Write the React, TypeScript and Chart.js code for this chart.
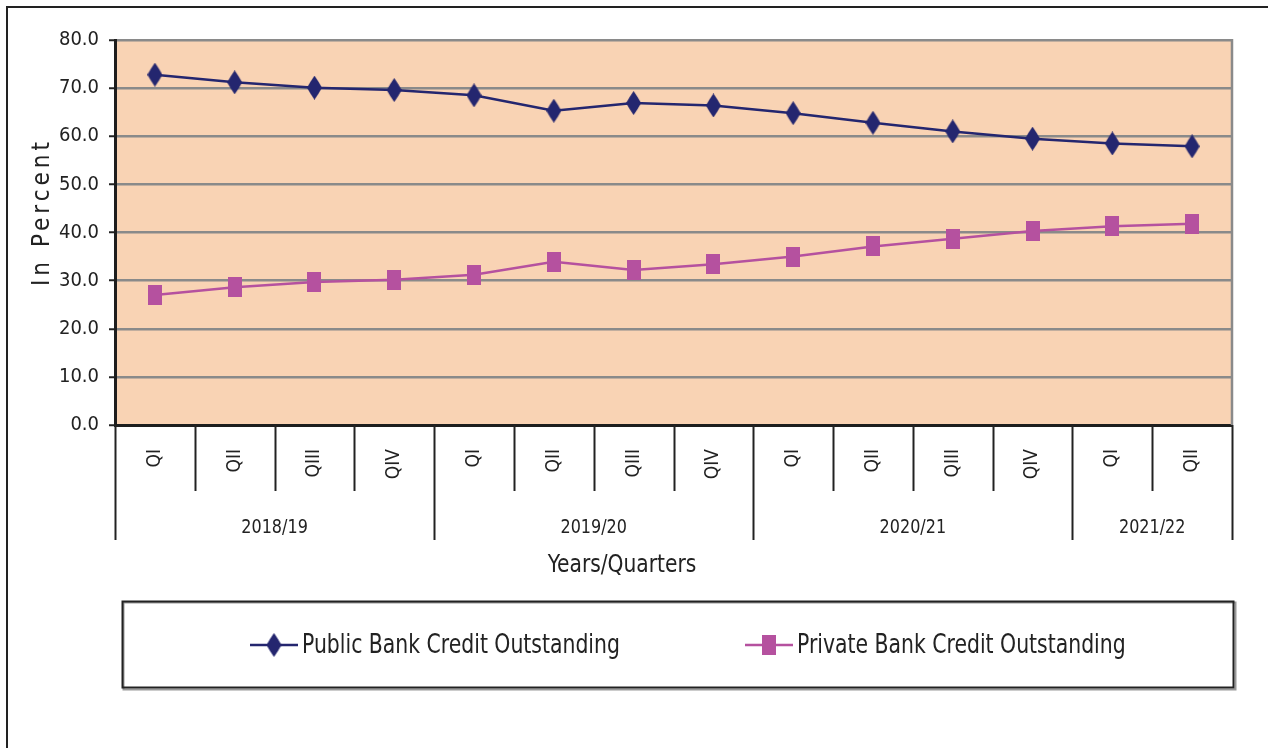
import React, { useEffect, useRef } from 'react';
import { Chart, registerables } from 'chart.js';
Chart.register(...registerables);

const categories = ['QI', 'QII', 'QIII', 'QIV', 'QI', 'QII', 'QIII', 'QIV', 'QI', 'QII', 'QIII', 'QIV', 'QI', 'QII'];
const yearGroups = ['2018/19', '2019/20', '2020/21', '2021/22'];
const groupSizes = [4, 4, 4, 2];
const publicBank = [72.8, 71.2, 70.1, 69.6, 68.5, 65.3, 66.9, 66.4, 64.8, 62.8, 61.0, 59.5, 58.5, 57.9];
const privateBank = [27.0, 28.6, 29.7, 30.2, 31.2, 33.9, 32.2, 33.4, 35.0, 37.1, 38.7, 40.3, 41.3, 41.8];
const seriesNames = ['Public Bank Credit Outstanding', 'Private Bank Credit Outstanding'];
const yAxisTitle = 'In Percent';
const xAxisTitle = 'Years/Quarters';

const FONT = "'Liberation Sans Narrow', 'DejaVu Sans Condensed', 'Liberation Sans', sans-serif";
const NAVY = '#24266f';
const PINK = '#b5519f';

function makeDiamond(color: string, w = 15, h = 24) {
  const c = document.createElement('canvas');
  c.width = w; c.height = h;
  const ctx = c.getContext('2d')!;
  ctx.fillStyle = color;
  const cx = w / 2, cy = h / 2;
  ctx.beginPath();
  ctx.moveTo(cx, 0);
  ctx.quadraticCurveTo(cx + w * 0.28, cy - h * 0.25, w, cy);
  ctx.quadraticCurveTo(cx + w * 0.28, cy + h * 0.25, cx, h);
  ctx.quadraticCurveTo(cx - w * 0.28, cy + h * 0.25, 0, cy);
  ctx.quadraticCurveTo(cx - w * 0.28, cy - h * 0.25, cx, 0);
  ctx.closePath();
  ctx.fill();
  return c;
}

function makeRect(color: string, w = 14, h = 20) {
  const c = document.createElement('canvas');
  c.width = w; c.height = h;
  const ctx = c.getContext('2d')!;
  ctx.fillStyle = color;
  ctx.fillRect(0, 0, w, h);
  return c;
}

function squeezeText(ctx: CanvasRenderingContext2D, text: string, x: number, y: number, sx: number) {
  ctx.save();
  ctx.translate(x, y);
  ctx.scale(sx, 1);
  ctx.fillText(text, 0, 0);
  ctx.restore();
}

export default function App() {
  const ref = useRef<HTMLCanvasElement>(null);

  useEffect(() => {
    const canvas = ref.current!;
    const diamond = makeDiamond(NAVY);
    const square = makeRect(PINK);

    const decor = {
      id: 'decor',
      beforeDraw(chart: any) {
        const { ctx, chartArea: a } = chart;
        ctx.save();
        ctx.fillStyle = '#f9d3b4';
        ctx.fillRect(a.left, a.top, a.right - a.left, a.bottom - a.top);
        ctx.restore();
      },
      beforeDatasetsDraw(chart: any) {
        const { ctx, chartArea: a } = chart;
        ctx.save();
        ctx.strokeStyle = '#8a8a8a';
        ctx.lineWidth = 2.5;
        ctx.beginPath();
        ctx.moveTo(a.right, a.top - 1);
        ctx.lineTo(a.right, a.bottom);
        ctx.stroke();
        ctx.restore();
      },
      afterDraw(chart: any) {
        const { ctx, chartArea: a } = chart;
        const xs = chart.scales.x;
        ctx.save();
        // outer frame
        ctx.strokeStyle = '#222';
        ctx.lineWidth = 2;
        ctx.beginPath();
        ctx.moveTo(7, 760);
        ctx.lineTo(7, 7);
        ctx.lineTo(1280, 7);
        ctx.stroke();

        // category separators
        const boundaries: number[] = [0];
        let acc = 0;
        groupSizes.forEach((s) => { acc += s; boundaries.push(acc); });
        ctx.strokeStyle = '#222';
        ctx.lineWidth = 2;
        for (let i = 0; i <= categories.length; i++) {
          const x = Math.round(xs.getPixelForValue(i - 0.5)) + 0.5;
          const long = boundaries.includes(i);
          ctx.beginPath();
          ctx.moveTo(x, a.bottom);
          ctx.lineTo(x, long ? 540 : 491);
          ctx.stroke();
        }
        // category labels rotated (reading bottom to top)
        ctx.fillStyle = '#222';
        ctx.font = `19px ${FONT}`;
        ctx.textAlign = 'right';
        ctx.textBaseline = 'middle';
        categories.forEach((c, i) => {
          const x = xs.getPixelForValue(i);
          ctx.save();
          ctx.translate(x, 449);
          ctx.rotate(-Math.PI / 2);
          ctx.fillText(c, 0, 0);
          ctx.restore();
        });
        // year labels
        ctx.font = `20px ${FONT}`;
        ctx.textAlign = 'center';
        let start = 0;
        yearGroups.forEach((g, gi) => {
          const end = start + groupSizes[gi] - 1;
          const x = (xs.getPixelForValue(start - 0.5) + xs.getPixelForValue(end + 0.5)) / 2;
          squeezeText(ctx, g, x, 528, 0.89);
          start = end + 1;
        });
        // x axis title
        ctx.font = `25px ${FONT}`;
        squeezeText(ctx, xAxisTitle, 622, 565, 0.9);
        // y axis title
        ctx.save();
        ctx.translate(43, 212);
        ctx.rotate(-Math.PI / 2);
        ctx.font = `24px ${FONT}`;
        (ctx as any).letterSpacing = '4px';
        ctx.fillText(yAxisTitle, 0, 0);
        ctx.restore();

        // legend box
        ctx.strokeStyle = '#999';
        ctx.lineWidth = 2;
        ctx.strokeRect(123.5, 602.5, 1112, 87);
        ctx.strokeStyle = '#222';
        ctx.strokeRect(122.5, 601.5, 1111, 86);
        const items = [
          { name: seriesNames[0], color: NAVY, img: diamond, x0: 250 },
          { name: seriesNames[1], color: PINK, img: square, x0: 745 },
        ];
        ctx.font = `27px ${FONT}`;
        ctx.textAlign = 'left';
        items.forEach((it) => {
          ctx.strokeStyle = it.color;
          ctx.lineWidth = 2.5;
          ctx.beginPath();
          ctx.moveTo(it.x0, 645);
          ctx.lineTo(it.x0 + 48, 645);
          ctx.stroke();
          ctx.drawImage(it.img, it.x0 + 24 - it.img.width / 2, 645 - it.img.height / 2);
          ctx.fillStyle = '#222';
          squeezeText(ctx, it.name, it.x0 + 52, 646, 0.84);
        });
        ctx.restore();
      },
    };

    const chart = new Chart(canvas, {
      type: 'line',
      data: {
        labels: categories,
        datasets: [
          {
            label: seriesNames[0],
            data: publicBank,
            borderColor: NAVY,
            backgroundColor: NAVY,
            borderWidth: 2.5,
            pointStyle: diamond as any,
            pointRadius: 8,
            tension: 0,
          },
          {
            label: seriesNames[1],
            data: privateBank,
            borderColor: PINK,
            backgroundColor: PINK,
            borderWidth: 2.5,
            pointStyle: square as any,
            pointRadius: 8,
            tension: 0,
          },
        ],
      },
      options: {
        responsive: false,
        animation: false,
        layout: { padding: { left: 0, top: 40, right: 36, bottom: 0 } },
        plugins: { legend: { display: false }, tooltip: { enabled: false } },
        scales: {
          x: {
            type: 'category',
            offset: true,
            grid: { display: false, offset: true },
            ticks: { display: false },
            border: { display: true, color: '#1e1e1e', width: 3 },
            afterFit: (s: any) => { s.height = 748 - 425; },
          },
          y: {
            min: 0,
            max: 80,
            ticks: {
              stepSize: 10,
              callback: (v: any) => Number(v).toFixed(1),
              color: '#222',
              font: { family: FONT, size: 20 },
              padding: 10,
            },
            grid: { color: '#8a8a8a', lineWidth: 2.5, tickLength: 6, tickColor: '#222', tickWidth: 2 } as any,
            border: { display: true, color: '#1e1e1e', width: 3 },
            afterFit: (s: any) => { s.width = 115; },
          },
        },
      },
      plugins: [decor],
    } as any);
    return () => chart.destroy();
  }, []);

  return (
    <div style={{ position: 'absolute', left: 0, top: 0, width: 1268, height: 748 }}>
      <canvas ref={ref} width={1268} height={748} style={{ display: 'block' }} />
    </div>
  );
}
